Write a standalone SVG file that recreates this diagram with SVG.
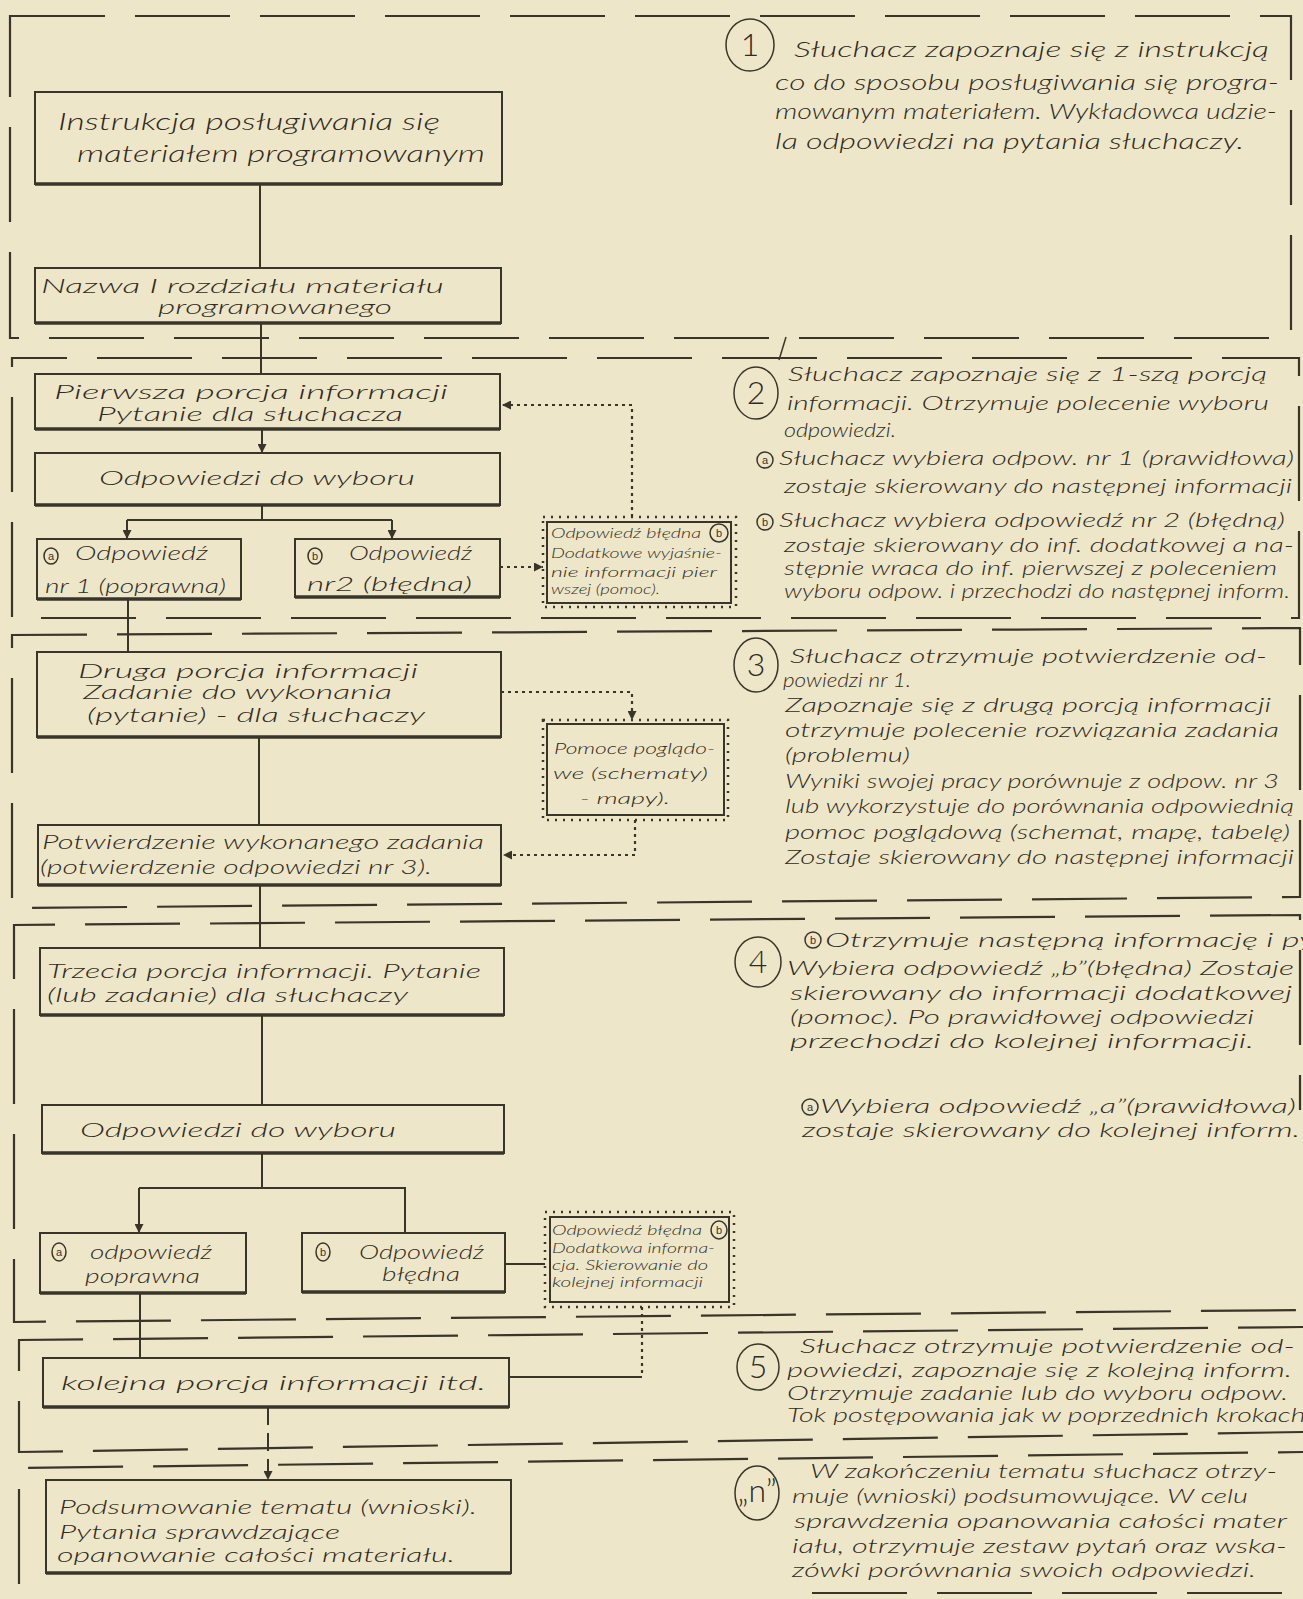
<svg xmlns="http://www.w3.org/2000/svg" width="1303" height="1599" viewBox="0 0 1303 1599">
<defs>
<style>
.bx{fill:none;stroke:#3a352b;stroke-width:2}
.bb{stroke:#3a352b;stroke-width:3.5}
.dr{fill:none;stroke:#3a352b;stroke-width:2.5;stroke-dasharray:2 6}
.t{font-family:Lato,"Liberation Sans","DejaVu Sans",sans-serif;font-style:italic;font-weight:300;fill:#2f2a22}
.t24{font-size:23px}
.tr{font-size:22px}
.tr2{font-size:20px}
.tr3{font-size:19px}
.t22{font-size:20px}
.t16{font-size:16px}
.t14{font-size:14px}
.num{font-family:Lato,"Liberation Sans","DejaVu Sans",sans-serif;font-weight:300;font-size:32px;fill:#2f2a22;text-anchor:middle}
.sl{font-family:"Liberation Sans","DejaVu Sans",sans-serif;font-size:11px;fill:#3a352b;text-anchor:middle}
.ci{fill:none;stroke:#3a352b;stroke-width:1.5}
.fr{fill:none;stroke:#3a352b;stroke-width:2.2;stroke-dasharray:95 30}
.c{fill:none;stroke:#3a352b;stroke-width:2}
.cd{fill:none;stroke:#3a352b;stroke-width:2.2;stroke-dasharray:3 4}
.cdash{fill:none;stroke:#3a352b;stroke-width:2;stroke-dasharray:18 8}
</style>
<marker id="ah" viewBox="0 0 10 10" refX="10" refY="5" markerWidth="9" markerHeight="9" markerUnits="userSpaceOnUse" orient="auto">
<path d="M0,0 L10,5 L0,10 z" fill="#3a352b"/>
</marker>
</defs>
<rect x="0" y="0" width="1303" height="1599" fill="#eee6c8"/>

<g id="frames">
<path class="fr" d="M10,16 H1291 V338 H10 Z"/>
<path class="fr" d="M12,358 H1299 V618 H12 Z" stroke-dashoffset="40"/>
<path class="fr" d="M12,635 L1300,628 V897 L12,908 Z" stroke-dashoffset="20"/>
<path class="fr" d="M1300,1110 V915 L14,925 V1322 L1303,1310" stroke-dashoffset="60"/>
<path class="fr" d="M1303,1327 L19,1340 V1452 L1303,1432" stroke-dashoffset="30"/>
<path class="fr" d="M1303,1452 L19,1468 V1599" stroke-dashoffset="70"/>
<path class="fr" d="M812,1593 H1303"/>
<line x1="786" y1="337" x2="779" y2="360" stroke="#3a352b" stroke-width="1.5"/>
</g>

<g id="connectors">
<path class="c" d="M260,184 V268"/>
<path class="c" d="M261,323 V374"/>
<path class="c" d="M262,429 V453" marker-end="url(#ah)"/>
<path class="c" d="M262,505 V520 M127,520 H392"/>
<path class="c" d="M127,520 V539" marker-end="url(#ah)"/>
<path class="c" d="M392,520 V539" marker-end="url(#ah)"/>
<path class="c" d="M128,599 V652"/>
<path class="cd" d="M500,567 H543" marker-end="url(#ah)"/>
<path class="cd" d="M632,517 V405 H502" marker-end="url(#ah)"/>
<path class="cd" d="M501,692 H632 V720" marker-end="url(#ah)"/>
<path class="c" d="M259,737 V825"/>
<path class="cd" d="M635,820 V855 H503" marker-end="url(#ah)"/>
<path class="c" d="M260,885 V948"/>
<path class="c" d="M262,1015 V1105"/>
<path class="c" d="M262,1153 V1188 M139,1188 H405 V1233"/>
<path class="c" d="M139,1188 V1233" marker-end="url(#ah)"/>
<path class="c" d="M505,1264 H545"/>
<path class="cd" d="M642,1307 V1377"/>
<path class="c" d="M642,1377 H509"/>
<path class="c" d="M140,1293 V1358"/>
<path class="cdash" d="M268,1407 V1480" marker-end="url(#ah)"/>
</g>

<g id="box1">
<rect class="bx" x="35" y="92" width="467" height="92"/>
<line class="bb" x1="35" y1="184" x2="502" y2="184"/>
<text class="t t24" x="58" y="130" textLength="382" lengthAdjust="spacingAndGlyphs">Instrukcja posługiwania się</text>
<text class="t t24" x="77" y="162" textLength="408" lengthAdjust="spacingAndGlyphs">materiałem programowanym</text>
</g>

<g id="box2">
<rect class="bx" x="35" y="268" width="466" height="55"/>
<line class="bb" x1="35" y1="323" x2="501" y2="323"/>
<text class="t t22" x="41" y="293" textLength="403" lengthAdjust="spacingAndGlyphs">Nazwa I rozdziału materiału</text>
<text class="t t22" x="158" y="314" textLength="234" lengthAdjust="spacingAndGlyphs">programowanego</text>
</g>

<g id="box3">
<rect class="bx" x="35" y="374" width="465" height="55"/>
<line class="bb" x1="35" y1="429" x2="500" y2="429"/>
<text class="t t22" x="54" y="399" textLength="394" lengthAdjust="spacingAndGlyphs">Pierwsza porcja informacji</text>
<text class="t t22" x="97" y="421" textLength="306" lengthAdjust="spacingAndGlyphs">Pytanie dla słuchacza</text>
</g>

<g id="box4">
<rect class="bx" x="35" y="453" width="465" height="52"/>
<line class="bb" x1="35" y1="505" x2="500" y2="505"/>
<text class="t t22" x="99" y="485" textLength="316" lengthAdjust="spacingAndGlyphs">Odpowiedzi do wyboru</text>
</g>

<g id="box5">
<rect class="bx" x="37" y="539" width="204" height="60"/>
<line class="bb" x1="37" y1="599" x2="241" y2="599"/>
<ellipse class="ci" cx="51" cy="556" rx="7" ry="8"/>
<text class="sl" x="51" y="560">a</text>
<text class="t t22" x="75" y="560" textLength="133" lengthAdjust="spacingAndGlyphs">Odpowiedź</text>
<text class="t t22" x="45" y="593" textLength="181" lengthAdjust="spacingAndGlyphs">nr 1 (poprawna)</text>
</g>

<g id="box6">
<rect class="bx" x="295" y="539" width="205" height="58"/>
<line class="bb" x1="295" y1="597" x2="500" y2="597"/>
<ellipse class="ci" cx="315" cy="556" rx="7" ry="8"/>
<text class="sl" x="315" y="560">b</text>
<text class="t t22" x="349" y="560" textLength="123" lengthAdjust="spacingAndGlyphs">Odpowiedź</text>
<text class="t t22" x="307" y="591" textLength="165" lengthAdjust="spacingAndGlyphs">nr2 (błędna)</text>
</g>

<g id="box7">
<rect class="dr" x="543" y="517" width="193" height="90"/>
<rect class="bx" x="547" y="522" width="184" height="81"/>
<text class="t t14" x="551" y="538" textLength="150" lengthAdjust="spacingAndGlyphs">Odpowiedź błędna</text>
<ellipse class="ci" cx="719" cy="533" rx="9" ry="9" stroke-width="2"/>
<text class="sl" x="719" y="537" font-size="12">b</text>
<text class="t t14" x="551" y="558" textLength="171" lengthAdjust="spacingAndGlyphs">Dodatkowe wyjaśnie-</text>
<text class="t t14" x="551" y="577" textLength="166" lengthAdjust="spacingAndGlyphs">nie informacji pier</text>
<text class="t t14" x="551" y="594" textLength="109" lengthAdjust="spacingAndGlyphs">wszej (pomoc).</text>
</g>

<g id="box8">
<rect class="bx" x="37" y="652" width="464" height="85"/>
<line class="bb" x1="37" y1="737" x2="501" y2="737"/>
<text class="t t22" x="78" y="678" textLength="340" lengthAdjust="spacingAndGlyphs">Druga porcja informacji</text>
<text class="t t22" x="83" y="699" textLength="309" lengthAdjust="spacingAndGlyphs">Zadanie do wykonania</text>
<text class="t t22" x="87" y="722" textLength="338" lengthAdjust="spacingAndGlyphs">(pytanie) - dla słuchaczy</text>
</g>

<g id="box9">
<rect class="bx" x="38" y="825" width="463" height="60"/>
<line class="bb" x1="38" y1="885" x2="501" y2="885"/>
<text class="t t22" x="42" y="849" textLength="442" lengthAdjust="spacingAndGlyphs">Potwierdzenie wykonanego zadania</text>
<text class="t t22" x="40" y="874" textLength="392" lengthAdjust="spacingAndGlyphs">(potwierdzenie odpowiedzi nr 3).</text>
</g>

<g id="box10">
<rect class="dr" x="543" y="720" width="185" height="100"/>
<rect class="bx" x="547" y="724" width="177" height="91"/>
<text class="t t16" x="554" y="754" textLength="161" lengthAdjust="spacingAndGlyphs">Pomoce poglądo-</text>
<text class="t t16" x="553" y="779" textLength="155" lengthAdjust="spacingAndGlyphs">we (schematy)</text>
<text class="t t16" x="580" y="804" textLength="90" lengthAdjust="spacingAndGlyphs">- mapy).</text>
</g>

<g id="box11">
<rect class="bx" x="40" y="948" width="464" height="67"/>
<line class="bb" x1="40" y1="1015" x2="504" y2="1015"/>
<text class="t t22" x="47" y="978" textLength="434" lengthAdjust="spacingAndGlyphs">Trzecia porcja informacji. Pytanie</text>
<text class="t t22" x="47" y="1002" textLength="361" lengthAdjust="spacingAndGlyphs">(lub zadanie) dla słuchaczy</text>
</g>

<g id="box12">
<rect class="bx" x="42" y="1105" width="462" height="48"/>
<line class="bb" x1="42" y1="1153" x2="504" y2="1153"/>
<text class="t t22" x="80" y="1137" textLength="316" lengthAdjust="spacingAndGlyphs">Odpowiedzi do wyboru</text>
</g>

<g id="box13">
<rect class="bx" x="40" y="1233" width="206" height="60"/>
<line class="bb" x1="40" y1="1293" x2="246" y2="1293"/>
<ellipse class="ci" cx="59" cy="1252" rx="7" ry="9"/>
<text class="sl" x="59" y="1256">a</text>
<text class="t t22" x="90" y="1259" textLength="122" lengthAdjust="spacingAndGlyphs">odpowiedź</text>
<text class="t t22" x="85" y="1283" textLength="115" lengthAdjust="spacingAndGlyphs">poprawna</text>
</g>

<g id="box14">
<rect class="bx" x="302" y="1233" width="203" height="59"/>
<line class="bb" x1="302" y1="1292" x2="505" y2="1292"/>
<ellipse class="ci" cx="323" cy="1252" rx="7" ry="9"/>
<text class="sl" x="323" y="1256">b</text>
<text class="t t22" x="359" y="1259" textLength="125" lengthAdjust="spacingAndGlyphs">Odpowiedź</text>
<text class="t t22" x="382" y="1281" textLength="78" lengthAdjust="spacingAndGlyphs">błędna</text>
</g>

<g id="box15">
<rect class="dr" x="545" y="1212" width="189" height="95"/>
<rect class="bx" x="550" y="1217" width="179" height="85"/>
<text class="t t14" x="552" y="1235" textLength="150" lengthAdjust="spacingAndGlyphs">Odpowiedź błędna</text>
<ellipse class="ci" cx="719" cy="1230" rx="8" ry="9" stroke-width="2"/>
<text class="sl" x="719" y="1234" font-size="12">b</text>
<text class="t t14" x="552" y="1253" textLength="163" lengthAdjust="spacingAndGlyphs">Dodatkowa informa-</text>
<text class="t t14" x="552" y="1270" textLength="156" lengthAdjust="spacingAndGlyphs">cja. Skierowanie do</text>
<text class="t t14" x="552" y="1287" textLength="151" lengthAdjust="spacingAndGlyphs">kolejnej informacji</text>
</g>

<g id="box16">
<rect class="bx" x="43" y="1358" width="466" height="49"/>
<line class="bb" x1="43" y1="1407" x2="509" y2="1407"/>
<text class="t t22" x="61" y="1390" textLength="425" lengthAdjust="spacingAndGlyphs">kolejna porcja informacji itd.</text>
</g>

<g id="box17">
<rect class="bx" x="46" y="1480" width="465" height="93"/>
<line class="bb" x1="46" y1="1573" x2="511" y2="1573"/>
<text class="t t22" x="59" y="1514" textLength="418" lengthAdjust="spacingAndGlyphs">Podsumowanie tematu (wnioski).</text>
<text class="t t22" x="59" y="1539" textLength="281" lengthAdjust="spacingAndGlyphs">Pytania sprawdzające</text>
<text class="t t22" x="57" y="1562" textLength="398" lengthAdjust="spacingAndGlyphs">opanowanie całości materiału.</text>
</g>

<g id="step1">
<ellipse class="ci" cx="750" cy="45" rx="24" ry="26"/>
<text class="num" x="750" y="56">1</text>
<text class="t tr" x="794" y="57" textLength="475" lengthAdjust="spacingAndGlyphs">Słuchacz zapoznaje się z instrukcją</text>
<text class="t tr" x="775" y="90" textLength="504" lengthAdjust="spacingAndGlyphs">co do sposobu posługiwania się progra-</text>
<text class="t tr" x="775" y="119" textLength="502" lengthAdjust="spacingAndGlyphs">mowanym materiałem. Wykładowca udzie-</text>
<text class="t tr" x="775" y="149" textLength="469" lengthAdjust="spacingAndGlyphs">la odpowiedzi na pytania słuchaczy.</text>
</g>

<g id="step2">
<ellipse class="ci" cx="756" cy="393" rx="22" ry="26"/>
<text class="num" x="756" y="404">2</text>
<text class="t tr2" x="788" y="381" textLength="479" lengthAdjust="spacingAndGlyphs">Słuchacz zapoznaje się z 1-szą porcją</text>
<text class="t tr2" x="787" y="410" textLength="482" lengthAdjust="spacingAndGlyphs">informacji. Otrzymuje polecenie wyboru</text>
<text class="t tr2" x="784" y="437" textLength="112" lengthAdjust="spacingAndGlyphs">odpowiedzi.</text>
<ellipse class="ci" cx="765" cy="460" rx="8" ry="8"/>
<text class="sl" x="765" y="464">a</text>
<text class="t tr2" x="779" y="465" textLength="515" lengthAdjust="spacingAndGlyphs">Słuchacz wybiera odpow. nr 1 (prawidłowa)</text>
<text class="t tr2" x="784" y="493" textLength="508" lengthAdjust="spacingAndGlyphs">zostaje skierowany do następnej informacji</text>
<ellipse class="ci" cx="765" cy="522" rx="8" ry="8"/>
<text class="sl" x="765" y="526">b</text>
<text class="t tr2" x="779" y="527" textLength="506" lengthAdjust="spacingAndGlyphs">Słuchacz wybiera odpowiedź nr 2 (błędną)</text>
<text class="t tr3" x="784" y="552" textLength="510" lengthAdjust="spacingAndGlyphs">zostaje skierowany do inf. dodatkowej a na-</text>
<text class="t tr3" x="784" y="575" textLength="493" lengthAdjust="spacingAndGlyphs">stępnie wraca do inf. pierwszej z poleceniem</text>
<text class="t tr3" x="784" y="598" textLength="506" lengthAdjust="spacingAndGlyphs">wyboru odpow. i przechodzi do następnej inform.</text>
</g>

<g id="step3">
<ellipse class="ci" cx="756" cy="665" rx="22" ry="27"/>
<text class="num" x="756" y="676">3</text>
<text class="t tr2" x="790" y="663" textLength="477" lengthAdjust="spacingAndGlyphs">Słuchacz otrzymuje potwierdzenie od-</text>
<text class="t tr2" x="783" y="687" textLength="128" lengthAdjust="spacingAndGlyphs">powiedzi nr 1.</text>
<text class="t tr2" x="785" y="712" textLength="486" lengthAdjust="spacingAndGlyphs">Zapoznaje się z drugą porcją informacji</text>
<text class="t tr2" x="785" y="737" textLength="494" lengthAdjust="spacingAndGlyphs">otrzymuje polecenie rozwiązania zadania</text>
<text class="t tr2" x="785" y="762" textLength="125" lengthAdjust="spacingAndGlyphs">(problemu)</text>
<text class="t tr2" x="785" y="788" textLength="494" lengthAdjust="spacingAndGlyphs">Wyniki swojej pracy porównuje z odpow. nr 3</text>
<text class="t tr2" x="785" y="813" textLength="509" lengthAdjust="spacingAndGlyphs">lub wykorzystuje do porównania odpowiednią</text>
<text class="t tr3" x="785" y="839" textLength="505" lengthAdjust="spacingAndGlyphs">pomoc poglądową (schemat, mapę, tabelę)</text>
<text class="t tr3" x="785" y="864" textLength="509" lengthAdjust="spacingAndGlyphs">Zostaje skierowany do następnej informacji</text>
</g>

<g id="step4">
<ellipse class="ci" cx="758" cy="962" rx="23" ry="25"/>
<text class="num" x="758" y="973">4</text>
<ellipse class="ci" cx="813" cy="940" rx="8" ry="8"/>
<text class="sl" x="813" y="944">b</text>
<text class="t tr3" x="825" y="947" textLength="490" lengthAdjust="spacingAndGlyphs">Otrzymuje następną informację i py</text>
<text class="t tr3" x="787" y="975" textLength="507" lengthAdjust="spacingAndGlyphs">Wybiera odpowiedź „b”(błędna) Zostaje</text>
<text class="t tr3" x="790" y="1000" textLength="502" lengthAdjust="spacingAndGlyphs">skierowany do informacji dodatkowej</text>
<text class="t tr3" x="790" y="1024" textLength="464" lengthAdjust="spacingAndGlyphs">(pomoc). Po prawidłowej odpowiedzi</text>
<text class="t tr3" x="790" y="1048" textLength="464" lengthAdjust="spacingAndGlyphs">przechodzi do kolejnej informacji.</text>
<ellipse class="ci" cx="810" cy="1107" rx="8" ry="8"/>
<text class="sl" x="810" y="1111">a</text>
<text class="t tr3" x="820" y="1113" textLength="476" lengthAdjust="spacingAndGlyphs">Wybiera odpowiedź „a”(prawidłowa)</text>
<text class="t tr3" x="802" y="1137" textLength="498" lengthAdjust="spacingAndGlyphs">zostaje skierowany do kolejnej inform.</text>
</g>

<g id="step5">
<ellipse class="ci" cx="758" cy="1367" rx="21" ry="23"/>
<text class="num" x="758" y="1378">5</text>
<text class="t tr3" x="800" y="1353" textLength="495" lengthAdjust="spacingAndGlyphs">Słuchacz otrzymuje potwierdzenie od-</text>
<text class="t tr3" x="787" y="1377" textLength="505" lengthAdjust="spacingAndGlyphs">powiedzi, zapoznaje się z kolejną inform.</text>
<text class="t tr3" x="787" y="1400" textLength="501" lengthAdjust="spacingAndGlyphs">Otrzymuje zadanie lub do wyboru odpow.</text>
<text class="t tr3" x="787" y="1422" textLength="525" lengthAdjust="spacingAndGlyphs">Tok postępowania jak w poprzednich krokach.</text>
</g>

<g id="stepn">
<ellipse class="ci" cx="757" cy="1493" rx="22" ry="27"/>
<text class="num" x="757" y="1502" font-size="24">„n”</text>
<text class="t tr2" x="810" y="1478" textLength="467" lengthAdjust="spacingAndGlyphs">W zakończeniu tematu słuchacz otrzy-</text>
<text class="t tr2" x="792" y="1503" textLength="456" lengthAdjust="spacingAndGlyphs">muje (wnioski) podsumowujące. W celu</text>
<text class="t tr2" x="794" y="1528" textLength="493" lengthAdjust="spacingAndGlyphs">sprawdzenia opanowania całości mater</text>
<text class="t tr2" x="792" y="1553" textLength="495" lengthAdjust="spacingAndGlyphs">iału, otrzymuje zestaw pytań oraz wska-</text>
<text class="t tr2" x="792" y="1577" textLength="464" lengthAdjust="spacingAndGlyphs">zówki porównania swoich odpowiedzi.</text>
</g>
</svg>
